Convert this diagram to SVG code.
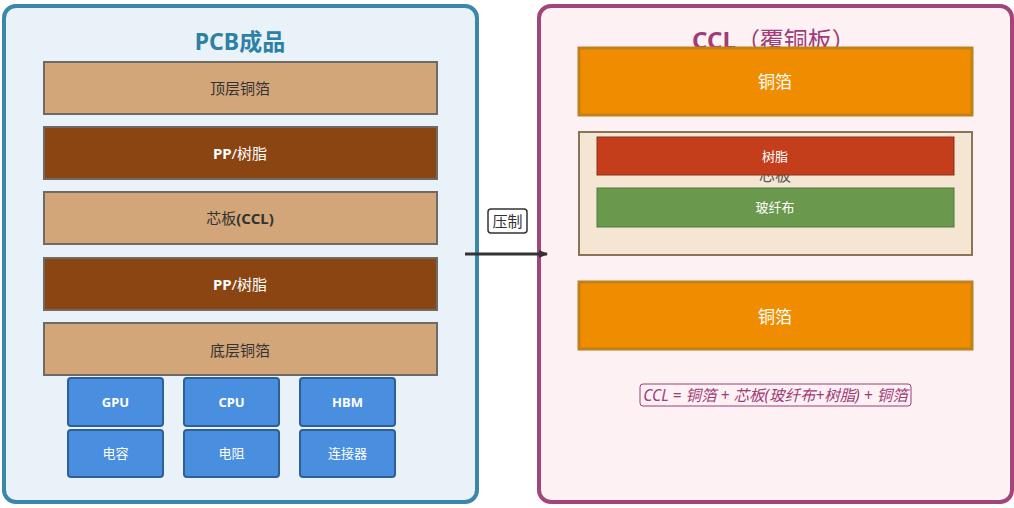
<svg xmlns="http://www.w3.org/2000/svg" width="1014" height="508" viewBox="0 0 1014 508">
<defs>
<marker id="ah" markerWidth="10" markerHeight="10" refX="8" refY="5" orient="auto" markerUnits="userSpaceOnUse">
<path d="M0,1 L9,5 L0,9 z" fill="#333"/>
</marker>
<style>
text{font-family:"Noto Sans","Noto Sans CJK SC",sans-serif;text-anchor:middle;dominant-baseline:central}
.panelL{fill:#e8f2f8;stroke:#3a87a9;stroke-width:4}
.panelR{fill:#fdf1f4;stroke:#a1457b;stroke-width:4}
.cu{fill:#d2a679;stroke:#6e6a66;stroke-width:2}
.pp{fill:#8b4513;stroke:#6e6a66;stroke-width:2}
.chip{fill:#4a8ee0;stroke:#2e5f99;stroke-width:2}
.foil{fill:#f08c00;stroke:#c0801a;stroke-width:3}
.dark{fill:#333;font-size:15px}
.light{fill:#fff;font-size:15px}
.chipt{fill:#fff;font-size:13px;font-weight:bold}
.chipc{fill:#fff;font-size:13px}
</style>
</defs>
<g id="pcb-panel">
<rect class="panelL" x="4" y="6" width="473" height="496" rx="12"/>
<text x="240" y="41" style="font-size:23px;font-weight:bold;fill:#2e80a4">PCB成品</text>
</g>
<g id="top-cu"><rect class="cu" x="44" y="62" width="393" height="52"/><text class="dark" x="240" y="88">顶层铜箔</text></g>
<g id="pp1"><rect class="pp" x="44" y="127" width="393" height="52"/><text class="light" x="240" y="153"><tspan font-weight="bold">PP</tspan>/树脂</text></g>
<g id="core"><rect class="cu" x="44" y="192" width="393" height="52"/><text class="dark" x="240" y="218">芯板<tspan font-weight="bold">(CCL)</tspan></text></g>
<g id="pp2"><rect class="pp" x="44" y="258" width="393" height="52"/><text class="light" x="240" y="284"><tspan font-weight="bold">PP</tspan>/树脂</text></g>
<g id="bot-cu"><rect class="cu" x="44" y="323" width="393" height="52"/><text class="dark" x="240" y="350">底层铜箔</text></g>
<g id="gpu"><rect class="chip" x="68" y="378" width="95" height="48" rx="3"/><text class="chipt" x="115.5" y="402">GPU</text></g>
<g id="cpu"><rect class="chip" x="184" y="378" width="95" height="48" rx="3"/><text class="chipt" x="231.5" y="402">CPU</text></g>
<g id="hbm"><rect class="chip" x="300" y="378" width="95" height="48" rx="3"/><text class="chipt" x="347.5" y="402">HBM</text></g>
<g id="cap"><rect class="chip" x="68" y="430" width="95" height="47" rx="3"/><text class="chipc" x="115.5" y="453">电容</text></g>
<g id="res"><rect class="chip" x="184" y="430" width="95" height="47" rx="3"/><text class="chipc" x="231.5" y="453">电阻</text></g>
<g id="conn"><rect class="chip" x="300" y="430" width="95" height="47" rx="3"/><text class="chipc" x="347.5" y="453">连接器</text></g>
<g id="ccl-panel">
<rect class="panelR" x="539" y="6" width="473" height="496" rx="12"/>
<text x="774" y="39" style="font-size:24px;font-weight:bold;fill:#a03c78">CCL<tspan font-weight="normal">（覆铜板）</tspan></text>
</g>
<g id="foil-top"><rect class="foil" x="579" y="48" width="393" height="67"/><text class="light" x="775" y="81" style="font-size:17px">铜箔</text></g>
<g id="core-board">
<rect x="579" y="132" width="393" height="123" fill="#f5e6d4" stroke="#8c7358" stroke-width="2"/>
<text x="775" y="175" style="font-size:16px;fill:#555">芯板</text>
</g>
<g id="resin"><rect x="597" y="137" width="357" height="38" fill="#c43e1c" stroke="#8a2e18" stroke-width="1"/><text class="light" x="775" y="156" style="font-size:13px">树脂</text></g>
<g id="glass"><rect x="597" y="188" width="357" height="39" fill="#6a994e" stroke="#4f7a3a" stroke-width="1"/><text class="light" x="775" y="207" style="font-size:13px">玻纤布</text></g>
<g id="foil-bot"><rect class="foil" x="579" y="282" width="393" height="67"/><text class="light" x="775" y="316" style="font-size:17px">铜箔</text></g>
<g id="formula">
<rect x="640" y="384" width="271" height="22" rx="3" fill="none" stroke="#a03c78" stroke-width="1"/>
<text x="775.5" y="395" style="font-size:15.5px;font-style:italic;fill:#a03c78">CCL = 铜箔 + 芯板(玻纤布+树脂) + 铜箔</text>
</g>
<g id="connectors">
<line x1="465" y1="254" x2="547" y2="254" stroke="#333" stroke-width="3" marker-end="url(#ah)"/>
<rect x="488" y="209" width="39" height="24" rx="3" fill="#fff" stroke="#333" stroke-width="1.5"/>
<text x="507.5" y="221" style="font-size:15px;fill:#333">压制</text>
</g>
</svg>
